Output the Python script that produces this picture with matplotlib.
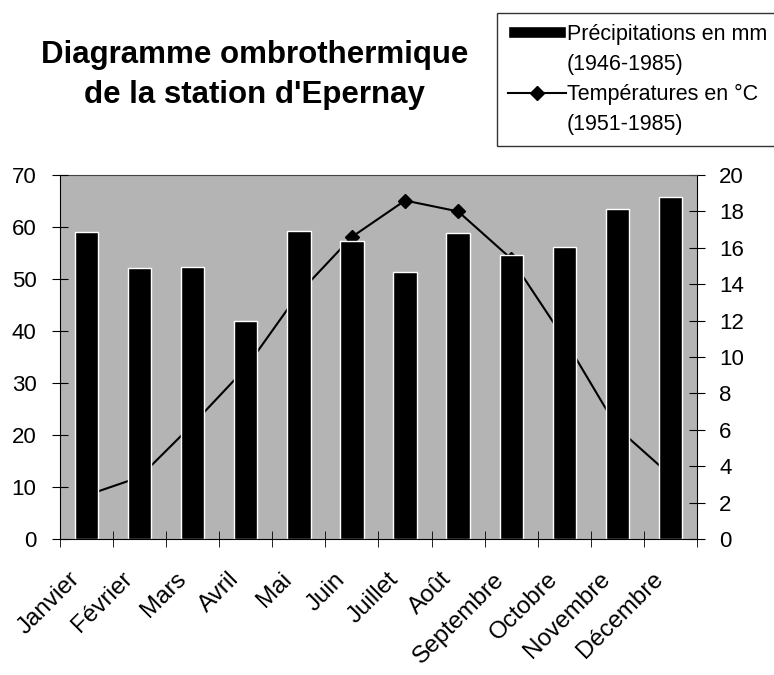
import matplotlib
matplotlib.use("Agg")
import matplotlib.pyplot as plt
import matplotlib.transforms as mtransforms
from matplotlib.patches import Patch
import numpy as np

plt.rcParams['font.family'] = ['Liberation Sans', 'DejaVu Sans']

mois = ['Janvier', 'Février', 'Mars', 'Avril', 'Mai', 'Juin', 'Juillet',
        'Août', 'Septembre', 'Octobre', 'Novembre', 'Décembre']
precipitations = [59.1, 52.1, 52.4, 41.9, 59.2, 57.4, 51.4, 58.9, 54.6, 56.1, 63.4, 65.8]
temperatures = [2.4, 3.4, 6.3, 9.4, 13.5, 16.6, 18.6, 18.0, 15.4, 11.0, 6.1, 3.5]
legende_precip = ['Précipitations en mm', '(1946-1985)']
legende_temp = ['Températures en °C', '(1951-1985)']

fig = plt.figure(figsize=(7.74, 6.75), dpi=100)
ax = fig.add_axes([0.0775, 0.2015, 0.823, 0.5392])
ax2 = ax.twinx()

# les barres passent devant la courbe, comme dans l'original
ax.set_zorder(ax2.get_zorder() + 1)
ax.patch.set_visible(False)
ax2.patch.set_visible(True)
ax2.set_facecolor('#b4b4b4')

x = np.arange(len(mois))
bars = ax.bar(x, precipitations, width=0.44, color='black', edgecolor='white',
              linewidth=1, zorder=2)
ax.set_xlim(-0.5, 11.5)
ax.set_ylim(0, 70)
ax.set_yticks(range(0, 71, 10))
ax.set_xticks(np.arange(-0.5, 12, 1), minor=True)
ax.set_xticks(x)
ax.tick_params(axis='x', which='major', length=0, pad=21)
ax.tick_params(axis='x', which='minor', length=11, direction='inout')
ax.tick_params(axis='y', length=12, direction='inout', labelsize=16, pad=11)
ax.set_xticklabels(mois, rotation=45, ha='right', va='top',
                   rotation_mode='anchor', fontsize=17.5)
for s in ['top', 'right']:
    ax.spines[s].set_visible(False)

line, = ax2.plot(x, temperatures, color='black', linewidth=1.5, marker='D',
                 markersize=7, zorder=3)
ax2.set_xlim(-0.5, 11.5)
ax2.set_ylim(0, 20)
ax2.set_yticks(range(0, 21, 2))
ax2.tick_params(axis='y', length=12, direction='inout', labelsize=16, pad=10)
for s in ['left', 'bottom']:
    ax2.spines[s].set_visible(False)
ax2.spines['top'].set_color('#444444')
ax2.spines['top'].set_linewidth(0.8)

# décalage des noms de mois vers la gauche (après tick_params)
decal = mtransforms.ScaledTranslation(-0.18, 0, fig.dpi_scale_trans)
for lab in ax.get_xticklabels():
    lab.set_transform(lab.get_transform() + decal)

fig.text(0.329, 0.889, "Diagramme ombrothermique\nde la station d'Epernay",
         ha='center', va='center', fontsize=22.5, fontweight='bold', linespacing=1.45)

vide = Patch(facecolor='none', edgecolor='none')
leg = fig.legend([bars, vide, line, vide],
                 [legende_precip[0], legende_precip[1], legende_temp[0], legende_temp[1]],
                 loc='upper left', bbox_to_anchor=(0.642, 0.981), fontsize=15.5,
                 frameon=True, fancybox=False, edgecolor='black',
                 handlelength=2.7, handleheight=0.45, handletextpad=0.05,
                 labelspacing=0.42, borderpad=0.5, borderaxespad=0)
leg.get_frame().set_linewidth(1)

fig.savefig('out.png', dpi=100)
